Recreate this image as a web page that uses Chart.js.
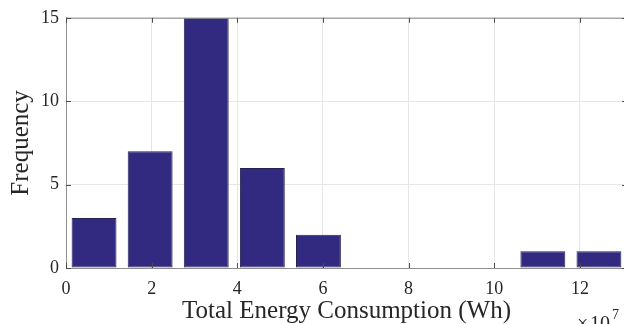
<!DOCTYPE html>
<html>
<head>
<meta charset="utf-8">
<script src="https://cdn.jsdelivr.net/npm/chart.js@4"></script>
<style>
  html, body { margin: 0; padding: 0; background: #fff; overflow: hidden; }
  #wrap { width: 630px; height: 330px; }
</style>
</head>
<body>
<div id="wrap"><canvas id="histChart" width="630" height="330"></canvas></div>
<script>
// bin centres (x 10^7 Wh) and counts
const binCenters = [0.655, 1.965, 3.275, 4.585, 5.895, 7.205, 8.515, 9.825, 11.135, 12.445];
const counts = [3, 7, 15, 6, 2, 0, 0, 0, 1, 1];
const xTicks = [0, 2, 4, 6, 8, 10, 12];
const yTicks = [0, 5, 10, 15];

const textColor = '#262626';
const frameColor = '#8f8f8f';

// top frame line, inward tick marks and the x10^7 exponent label
const matlabAxes = {
    id: 'matlabAxes',
    afterDraw(chart) {
        const { ctx, chartArea: a, scales } = chart;
        ctx.save();
        ctx.strokeStyle = frameColor;
        ctx.lineWidth = 1;
        ctx.beginPath();
        ctx.moveTo(a.left, a.top + 0.5);
        ctx.lineTo(a.right, a.top + 0.5);
        ctx.moveTo(a.right - 0.5, a.top);
        ctx.lineTo(a.right - 0.5, a.bottom);
        ctx.stroke();

        ctx.strokeStyle = '#4d4d4d';
        ctx.beginPath();
        xTicks.forEach(v => {
            const px = Math.round(scales.x.getPixelForValue(v)) + 0.5;
            ctx.moveTo(px, a.bottom); ctx.lineTo(px, a.bottom - 5);
            ctx.moveTo(px, a.top); ctx.lineTo(px, a.top + 5);
        });
        yTicks.forEach(v => {
            const py = Math.round(scales.y.getPixelForValue(v)) + 0.5;
            ctx.moveTo(a.left, py); ctx.lineTo(a.left + 5, py);
            ctx.moveTo(a.right, py); ctx.lineTo(a.right - 5, py);
        });
        ctx.stroke();

        ctx.fillStyle = textColor;
        ctx.textBaseline = 'alphabetic';
        ctx.textAlign = 'left';
        ctx.font = '20px "Liberation Serif"';
        ctx.fillText('\u00d7', 577, 330);
        ctx.fillText('10', 590, 330);
        ctx.font = '14px "Liberation Serif"';
        ctx.fillText('7', 612, 319);
        ctx.restore();
    }
};

new Chart(document.getElementById('histChart'), {
    type: 'bar',
    data: {
        datasets: [{
            label: 'Frequency',
            data: binCenters.map((c, i) => ({ x: c, y: counts[i] })),
            backgroundColor: '#312a80',
            borderColor: '#26224f',
            borderWidth: 1,
            borderSkipped: false,
            barPercentage: 0.8,
            categoryPercentage: 1.0
        }]
    },
    options: {
        responsive: false,
        animation: false,
        layout: { padding: { left: 0, top: 16, right: 3, bottom: 0 } },
        plugins: { legend: { display: false }, tooltip: { enabled: false } },
        scales: {
            x: {
                type: 'linear',
                min: 0,
                max: 13.1,
                offset: false,
                afterBuildTicks: s => { s.ticks = xTicks.map(v => ({ value: v })); },
                afterFit: s => { s.height = 62; },
                grid: { color: '#e6e6e6', drawTicks: false, offset: false },
                border: { display: true, color: frameColor },
                ticks: {
                    autoSkip: false,
                    padding: 10,
                    color: textColor,
                    font: { family: 'Liberation Serif', size: 18 }
                },
                title: {
                    display: true,
                    text: 'Total Energy Consumption (Wh)',
                    color: textColor,
                    font: { family: 'Liberation Serif', size: 25 },
                    padding: { top: 0, bottom: 4 }
                }
            },
            y: {
                min: 0,
                max: 15,
                afterBuildTicks: s => { s.ticks = yTicks.map(v => ({ value: v })); },
                afterFit: s => { s.width = 66; },
                grid: { color: '#e6e6e6', drawTicks: false },
                border: { display: true, color: frameColor },
                ticks: {
                    autoSkip: false,
                    padding: 7,
                    color: textColor,
                    font: { family: 'Liberation Serif', size: 18 }
                },
                title: {
                    display: true,
                    text: 'Frequency',
                    color: textColor,
                    font: { family: 'Liberation Serif', size: 25 },
                    padding: { top: 6, bottom: 0 }
                }
            }
        }
    },
    plugins: [matlabAxes]
});
</script>
</body>
</html>
